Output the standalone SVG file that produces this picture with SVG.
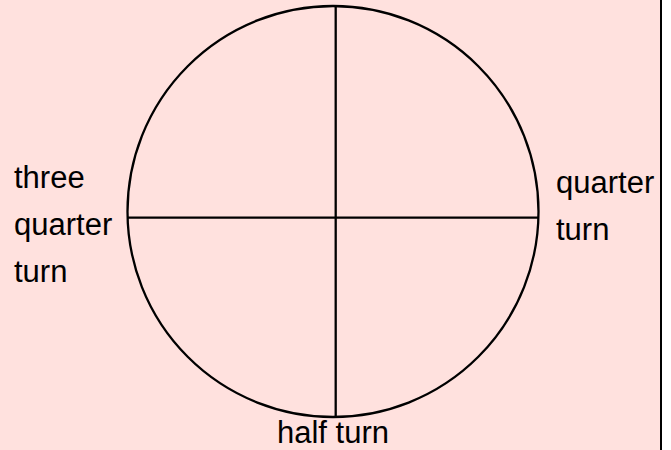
<svg xmlns="http://www.w3.org/2000/svg" width="671" height="450" viewBox="0 0 671 450">
<style>
.ln{stroke:#000;stroke-width:2.3;fill:none}
.lb{font-family:"Liberation Sans",Arial,sans-serif;font-size:31px;fill:#000}
</style>
<rect x="0" y="0" width="671" height="450" fill="#fff"/>
<rect x="0" y="0" width="660" height="450" fill="#FFE1DE"/>
<rect x="660" y="0" width="2" height="450" fill="#000"/>
<g id="circle">
<circle class="ln" cx="333" cy="211.5" r="205.5"/>
</g>
<g id="connectors">
<line class="ln" x1="335.7" y1="6" x2="335.7" y2="417"/>
<line class="ln" x1="127.5" y1="217.7" x2="538" y2="217.7"/>
</g>
<g id="label-left">
<text class="lb" x="14" y="188">three</text>
<text class="lb" x="14" y="235">quarter</text>
<text class="lb" x="14" y="282">turn</text>
</g>
<g id="label-right">
<text class="lb" x="556" y="193">quarter</text>
<text class="lb" x="556" y="240">turn</text>
</g>
<g id="label-bottom">
<text class="lb" x="277" y="443">half turn</text>
</g>
</svg>
